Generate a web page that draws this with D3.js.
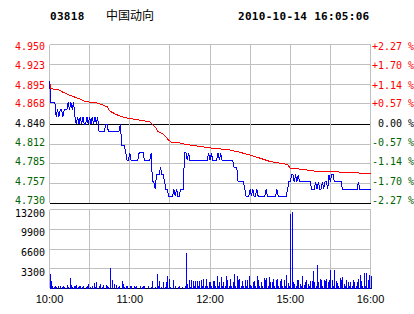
<!DOCTYPE html>
<html>
<head>
<meta charset="utf-8">
<script src="https://cdn.jsdelivr.net/npm/d3@7"></script>
<style>
body { margin: 0; background: #fff; }
svg { display: block; }
</style>
</head>
<body>
<div id="chart-container"></div>
<script>
var stock_code = "03818";
var stock_name = "中国动向";
var stamp = "2010-10-14 16:05:06";
var prev_close = 4.84;

var price_ticks = [4.950, 4.923, 4.895, 4.868, 4.840, 4.812, 4.785, 4.757, 4.730];
var pct_ticks = ["+2.27", "+1.70", "+1.14", "+0.57", "0.00", "-0.57", "-1.14", "-1.70", "-2.27"];
var vol_ticks = [13200, 9900, 6600, 3300];
var time_labels = ["10:00", "11:00", "12:00", "15:00", "16:00"];
var time_label_min = [0, 60, 120, 180, 240];
var grid_min = [0, 30, 60, 90, 120, 150, 180, 210, 240];

// minute by minute last price (0 = 10:00, lunch break removed)
var price = [
  4.90,4.87,4.87,4.87,4.87,4.85,4.86,4.85,4.86,4.86,
  4.85,4.86,4.86,4.86,4.87,4.86,4.87,4.86,4.87,4.85,
  4.84,4.85,4.84,4.85,4.84,4.85,4.84,4.84,4.85,4.84,
  4.85,4.84,4.85,4.84,4.85,4.84,4.85,4.83,4.83,4.83,
  4.83,4.83,4.84,4.84,4.83,4.83,4.83,4.83,4.83,4.83,
  4.83,4.83,4.83,4.84,4.81,4.81,4.81,4.80,4.79,4.79,
  4.80,4.79,4.79,4.79,4.79,4.79,4.79,4.80,4.80,4.80,
  4.80,4.79,4.79,4.79,4.79,4.79,4.80,4.76,4.76,4.75,
  4.77,4.77,4.77,4.78,4.77,4.77,4.76,4.75,4.75,4.74,
  4.74,4.74,4.74,4.75,4.74,4.75,4.74,4.74,4.75,4.75,
  4.75,4.80,4.80,4.79,4.80,4.79,4.79,4.79,4.79,4.79,
  4.79,4.79,4.79,4.79,4.79,4.79,4.79,4.79,4.79,4.80,
  4.79,4.80,4.79,4.79,4.79,4.79,4.80,4.79,4.80,4.79,
  4.79,4.79,4.79,4.79,4.79,4.79,4.79,4.79,4.78,4.78,
  4.78,4.76,4.76,4.76,4.76,4.76,4.75,4.74,4.74,4.74,
  4.75,4.74,4.75,4.74,4.74,4.75,4.74,4.74,4.74,4.74,
  4.74,4.74,4.75,4.74,4.74,4.74,4.74,4.74,4.74,4.74,
  4.75,4.74,4.74,4.74,4.74,4.74,4.74,4.74,4.75,4.76,
  4.76,4.77,4.77,4.76,4.77,4.76,4.77,4.76,4.76,4.76,
  4.76,4.76,4.76,4.76,4.76,4.76,4.75,4.75,4.75,4.76,
  4.75,4.76,4.75,4.75,4.76,4.75,4.76,4.76,4.75,4.77,
  4.76,4.77,4.77,4.76,4.76,4.76,4.76,4.76,4.76,4.75,
  4.75,4.75,4.75,4.75,4.75,4.75,4.75,4.75,4.75,4.75,
  4.75,4.76,4.75,4.75,4.75,4.75,4.75,4.75,4.75,4.75,
  4.75
];

// average price, read at a few minutes
var avg_min = [0, 1, 7, 10, 15, 22, 27, 36, 43, 45, 50, 56, 65, 75, 79, 81, 85, 89, 91, 97, 101, 105, 120, 135, 142, 150, 157, 165, 172, 178, 180, 190, 197, 210, 225, 240];
var avg_price = [4.900, 4.889, 4.887, 4.884, 4.880, 4.875, 4.871, 4.869, 4.864, 4.858, 4.853, 4.849, 4.846, 4.843, 4.836, 4.830, 4.826, 4.818, 4.815, 4.814, 4.812, 4.811, 4.807, 4.804, 4.801, 4.797, 4.793, 4.788, 4.786, 4.784, 4.779, 4.777, 4.775, 4.774, 4.773, 4.771];

var volume = [
  2400,1200,500,300,400,300,400,0,500,300,
  500,300,0,600,300,1700,600,300,500,400,
  650,300,400,500,300,400,0,300,500,750,
  300,0,400,900,300,1100,0,400,700,300,
  600,0,600,400,300,3400,0,1500,800,0,
  600,300,400,0,1200,800,300,400,500,0,
  500,400,0,400,300,400,0,0,400,300,
  400,400,0,0,400,0,300,1200,0,300,
  2400,400,1200,300,0,1100,300,1100,2050,1650,
  300,0,1400,0,400,0,300,400,0,300,
  0,400,5900,800,1400,300,1400,1300,400,1300,
  1300,400,1300,1400,500,1650,400,1650,500,1100,
  1100,400,1200,1200,500,2050,400,1100,1950,500,
  1100,400,2050,1400,500,1650,400,1100,2500,500,
  2050,1400,1650,500,1200,400,1500,500,1400,2050,
  600,400,1100,1200,500,2150,1400,400,1100,500,
  1800,1400,1800,500,1950,1100,1100,1650,500,1400,
  1650,400,1200,1650,500,1400,400,2200,950,400,
  12450,12850,1100,800,400,1400,1400,800,400,2050,
  550,1100,1400,800,400,1200,1200,2950,1100,400,
  3900,1100,1650,1400,400,1400,1200,1650,1100,1400,
  3050,1400,400,3050,1200,950,400,1800,1400,1950,
  800,400,1500,1100,400,1100,400,1400,1100,400,
  1100,1650,2200,1200,400,2600,500,2600,1400,2200,
  2050
];

var red = "#ff0000", green = "#006400", grid = "#c0c0c0";

var svg = d3.select("#chart-container")
  .append("svg")
  .attr("width", 414)
  .attr("height", 314)
  .style("background", "#fff");

var x = d3.scaleLinear().domain([0, 240]).range([49.5, 370.5]);
var y = d3.scaleLinear().domain([4.73, 4.95]).range([203.5, 44.5]);
var label_y = d3.scaleLinear().domain([4.73, 4.95]).range([200, 46.7]);
var yv = d3.scaleLinear().domain([0, 13200]).range([288.5, 209.5]);

function px(v) { return Math.round(v - 0.5) + 0.5; }

// header
svg.append("text")
  .attr("x", 50).attr("y", 20)
  .attr("font-family", "DejaVu Sans Mono").attr("font-weight", "bold")
  .attr("font-size", "11px").attr("letter-spacing", "0.3px")
  .text(stock_code);
svg.append("text")
  .attr("x", 106).attr("y", 20)
  .attr("font-family", "Noto Sans CJK SC").attr("font-size", "12px")
  .text(stock_name);
svg.append("text")
  .attr("x", 238).attr("y", 20)
  .attr("font-family", "DejaVu Sans Mono").attr("font-weight", "bold")
  .attr("font-size", "11px").attr("letter-spacing", "0.3px")
  .text(stamp);

// price grid
svg.selectAll(".hgrid")
  .data(price_ticks)
  .enter()
  .append("line")
  .attr("class", "hgrid")
  .attr("x1", x(0)).attr("x2", x(240))
  .attr("y1", function(d) { return px(y(d)); })
  .attr("y2", function(d) { return px(y(d)); })
  .attr("stroke", function(d, i) { return (d === prev_close || i === price_ticks.length - 1) ? "#000" : grid; })
  .attr("shape-rendering", "crispEdges");

svg.selectAll(".vgrid")
  .data(grid_min)
  .enter()
  .append("line")
  .attr("class", "vgrid")
  .attr("x1", function(d) { return px(x(d)); })
  .attr("x2", function(d) { return px(x(d)); })
  .attr("y1", y(4.95)).attr("y2", y(4.73) - 1)
  .attr("stroke", grid)
  .attr("shape-rendering", "crispEdges");

// volume grid
svg.selectAll(".vhgrid")
  .data([13200, 9900, 6600, 3300, 0])
  .enter()
  .append("line")
  .attr("x1", x(0)).attr("x2", x(240))
  .attr("y1", function(d) { return px(yv(d)); })
  .attr("y2", function(d) { return px(yv(d)); })
  .attr("stroke", function(d) { return d === 0 ? "#000" : grid; })
  .attr("shape-rendering", "crispEdges");

svg.selectAll(".vvgrid")
  .data(grid_min)
  .enter()
  .append("line")
  .attr("x1", function(d) { return px(x(d)); })
  .attr("x2", function(d) { return px(x(d)); })
  .attr("y1", yv(13200)).attr("y2", yv(0) - 1)
  .attr("stroke", grid)
  .attr("shape-rendering", "crispEdges");

// left price labels
svg.selectAll(".plabel")
  .data(price_ticks)
  .enter()
  .append("text")
  .attr("x", 45)
  .attr("y", function(d) { return label_y(d); })
  .attr("text-anchor", "end")
  .attr("dominant-baseline", "central")
  .attr("font-family", "DejaVu Sans Mono").attr("font-size", "10px")
  .attr("fill", function(d) { return d > prev_close ? red : (d < prev_close ? green : "#000"); })
  .text(function(d) { return d.toFixed(3); });

// right percent labels
svg.selectAll(".pctlabel")
  .data(pct_ticks)
  .enter()
  .append("text")
  .attr("x", 372)
  .attr("y", function(d, i) { return label_y(price_ticks[i]); })
  .attr("dominant-baseline", "central")
  .attr("font-family", "DejaVu Sans Mono").attr("font-size", "10px")
  .attr("xml:space", "preserve")
  .attr("fill", function(d) { return d[0] === "+" ? red : (d[0] === "-" ? green : "#000"); })
  .text(function(d) { return (d[0] === "+" || d[0] === "-" ? d : " " + d) + " %"; });

// volume labels
svg.selectAll(".vlabel")
  .data(vol_ticks)
  .enter()
  .append("text")
  .attr("x", 45)
  .attr("y", function(d) { return yv(d) + 3.5; })
  .attr("text-anchor", "end")
  .attr("dominant-baseline", "central")
  .attr("font-family", "DejaVu Sans Mono").attr("font-size", "10px")
  .attr("fill", "#000")
  .text(function(d) { return d; });

// time labels
svg.selectAll(".tlabel")
  .data(time_labels)
  .enter()
  .append("text")
  .attr("x", function(d, i) { return x(time_label_min[i]); })
  .attr("y", 299)
  .attr("text-anchor", "middle")
  .attr("dominant-baseline", "central")
  .attr("font-family", "Liberation Sans").attr("font-size", "11px")
  .text(function(d) { return d; });

// average line
var avg_line = d3.line()
  .x(function(d, i) { return x(avg_min[i]); })
  .y(function(d) { return y(d); });
svg.append("path")
  .attr("d", avg_line(avg_price))
  .attr("fill", "none")
  .attr("stroke", red)
  .attr("stroke-width", 1)
  .attr("shape-rendering", "crispEdges");

// price line
var price_line = d3.line()
  .x(function(d, i) { return x(i); })
  .y(function(d) { return y(d); });
svg.append("path")
  .attr("d", price_line(price))
  .attr("fill", "none")
  .attr("stroke", "#0000ff")
  .attr("stroke-width", 1)
  .attr("shape-rendering", "crispEdges");

// volume bars
svg.selectAll(".vol")
  .data(volume)
  .enter()
  .append("rect")
  .attr("class", "vol")
  .attr("x", function(d, i) { return Math.round(x(i)); })
  .attr("y", function(d) { return yv(d); })
  .attr("width", 1)
  .attr("height", function(d) { return yv(0) - yv(d); })
  .attr("fill", "#0000ff")
  .attr("shape-rendering", "crispEdges");
</script>
</body>
</html>
